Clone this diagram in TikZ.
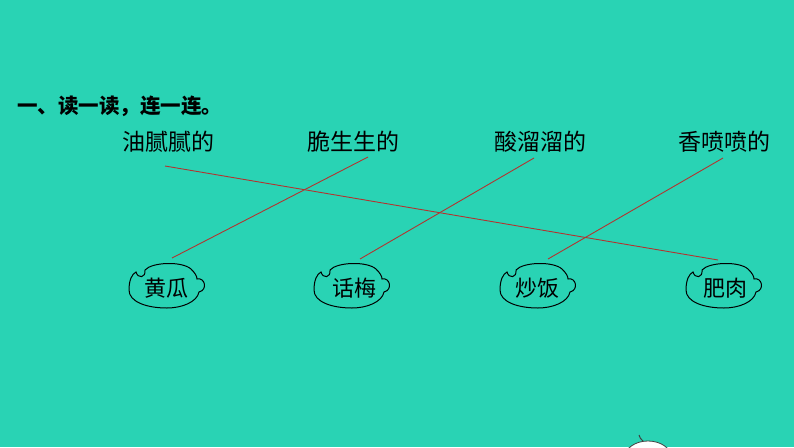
\documentclass[tikz,border=0pt]{standalone}
\usepackage{fontspec}
\newfontfamily\cjk{Noto Sans CJK SC}
\definecolor{bg}{RGB}{41,211,180}
\definecolor{ln}{RGB}{178,52,48}
\begin{document}
\begin{tikzpicture}[x=1pt,y=-1pt,
  title/.style={font=\cjk\bfseries\fontsize{20.5}{21}\selectfont, inner sep=0pt, anchor=west},
  word/.style={font=\cjk\fontsize{23}{23}\selectfont, inner sep=0pt},
  food/.style={font=\cjk\fontsize{22}{22}\selectfont, inner sep=0pt},
  link/.style={draw=ln, line width=0.9pt},
  cloudline/.style={draw=black, line width=1pt}]
\tikzset{cloud/.pic={
  \draw[cloudline] (-22,-16)
    .. controls (-15,-24) and (15,-25) .. (24,-17)
    .. controls (28,-13) and (30,-10) .. (30,-7)
    .. controls (38,-9) and (41,4) .. (32,6)
    .. controls (30,16) and (15,22) .. (0,22)
    .. controls (-20,22) and (-38,16) .. (-38,4)
    .. controls (-38,-6) and (-35,-12) .. (-31,-14)
    .. controls (-29,-7) and (-21,-8) .. (-22,-16) -- cycle;
}}
\fill[bg] (0,0) rectangle (794,447);
\useasboundingbox (0,0) rectangle (794,447);

\node[title] (t) at (17,106) {一、读一读，连一连。};

\node[word] (w1) at (168,142) {油腻腻的};
\node[word] (w2) at (353,142) {脆生生的};
\node[word] (w3) at (540,142) {酸溜溜的};
\node[word] (w4) at (724,142) {香喷喷的};

\pic at (167,286) {cloud};
\pic at (352,286) {cloud};
\pic at (538,286) {cloud};
\pic at (724,286) {cloud};

\node[food] (f1) at (166,288) {黄瓜};
\node[food] (f2) at (354,288) {话梅};
\node[food] (f3) at (537,288) {炒饭};
\node[food] (f4) at (725,288) {肥肉};

\coordinate (a1) at (165,166);
\coordinate (a2) at (368,157);
\coordinate (a3) at (534,158);
\coordinate (a4) at (723,158);
\coordinate (b1) at (172,258);
\coordinate (b2) at (360,259);
\coordinate (b3) at (548,259);
\coordinate (b4) at (718,260);

\draw[link] (a1) -- (b4);
\draw[link] (a2) -- (b1);
\draw[link] (a3) -- (b2);
\draw[link] (a4) -- (b3);

\begin{scope}
\clip (0,0) rectangle (794,447);
\draw[fill=white, draw=black!75, line width=0.8pt] (648,457) ellipse [x radius=23, y radius=16];
\draw[black!75, line width=1pt] (639,435) .. controls (640,438) .. (643,441);
\end{scope}
\end{tikzpicture}
\end{document}
